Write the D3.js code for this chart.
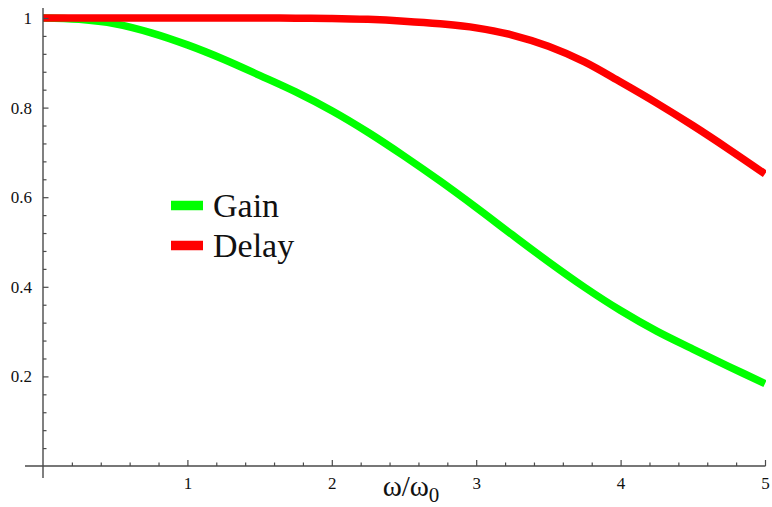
<!DOCTYPE html>
<html><head><meta charset="utf-8">
<script src="https://cdn.jsdelivr.net/npm/d3@7"></script>
<style>
html,body{margin:0;padding:0;background:#fff;}
svg{display:block;}
</style></head>
<body>
<svg id="chart" width="772" height="507"></svg>
<script>
// ----- data -----
const omega = [0,0.25,0.5,0.75,1,1.25,1.5,1.75,2,2.25,2.5,2.75,3,3.25,3.5,3.75,4,4.25,4.5,4.75,5];
const gain  = [1.000,0.997,0.987,0.967,0.940,0.908,0.872,0.835,0.793,0.745,0.692,0.636,0.577,0.516,0.456,0.399,0.347,0.301,0.261,0.222,0.184];
const delay = [1.000,1.000,1.000,1.000,1.000,1.000,1.000,0.9995,0.999,0.997,0.993,0.987,0.978,0.962,0.937,0.902,0.857,0.810,0.760,0.707,0.652];
const xMajorTicks = [1,2,3,4,5];
const yMajorTicks = [0.2,0.4,0.6,0.8,1];
const seriesNames = ["Gain","Delay"];
const seriesColors = ["#00ff00","#ff0000"];
const xLabel = "ω/ω";
const xLabelSub = "0";

const svg = d3.select("#chart");
const x = d3.scaleLinear().domain([0,5]).range([43,765]);
const y = d3.scaleLinear().domain([0,1]).range([466,18]);

const serif = "Liberation Serif, Times New Roman, serif";
const axisColor = "#4a4a4a";

const xMinor = d3.range(1,26).map(i=>+(i*0.2).toFixed(2)).filter(v=>!xMajorTicks.includes(v));
const yMinor = d3.range(1,26).map(i=>+(i*0.04).toFixed(2)).filter(v=>!yMajorTicks.some(t=>Math.abs(t-v)<1e-6));

// curves
const line = d3.line().x((d,i)=>x(omega[i])).y(d=>y(d)).curve(d3.curveCatmullRom.alpha(0.5));
svg.append("defs").append("clipPath").attr("id","clip")
  .append("rect").attr("x",x(0)).attr("y",0).attr("width",x(5)-x(0)+1).attr("height",y(0));
const g = svg.append("g").attr("clip-path","url(#clip)");
[gain, delay].forEach((s,k)=>{
  g.append("path").datum(s).attr("d",line).attr("fill","none")
   .attr("stroke",seriesColors[k]).attr("stroke-width",7.5)
   .attr("stroke-linejoin","round").attr("stroke-linecap","butt");
});

// axes lines
svg.append("line").attr("x1",x(0)).attr("x2",x(0)).attr("y1",8).attr("y2",478)
  .attr("stroke",axisColor).attr("stroke-width",1.4);
svg.append("line").attr("x1",25).attr("x2",x(5)+0.5).attr("y1",y(0)).attr("y2",y(0))
  .attr("stroke",axisColor).attr("stroke-width",1.4);

function styleAxis(sel){
  sel.attr("font-family",serif).attr("font-size",17);
  sel.select(".domain").remove();
  sel.selectAll(".tick line").attr("stroke",axisColor).attr("stroke-width",1.2);
  sel.selectAll(".tick text").attr("fill","#111").attr("font-family",serif).attr("font-size",17);
}
// x axis
svg.append("g").attr("transform",`translate(0,${y(0)})`)
  .call(d3.axisBottom(x).tickValues(xMinor).tickSize(-3.5).tickFormat("")).call(styleAxis);
svg.append("g").attr("transform",`translate(0,${y(0)})`)
  .call(d3.axisBottom(x).tickValues(xMajorTicks).tickSize(-6).tickPadding(11).tickFormat(d3.format("d"))).call(styleAxis);
// y axis
svg.append("g").attr("transform",`translate(${x(0)},0)`)
  .call(d3.axisLeft(y).tickValues(yMinor).tickSize(-3.5).tickFormat("")).call(styleAxis);
svg.append("g").attr("transform",`translate(${x(0)},0)`)
  .call(d3.axisLeft(y).tickValues(yMajorTicks).tickSize(-5.5).tickPadding(11).tickFormat(d=>d===1?"1":d3.format(".1f")(d))).call(styleAxis);

// x label
const lab = svg.append("text").attr("x",411).attr("y",496).attr("text-anchor","middle")
  .attr("font-family",serif).attr("font-size",29).attr("fill","#111");
lab.append("tspan").text(xLabel);
lab.append("tspan").attr("dy",6).attr("font-size",21).text(xLabelSub);

// legend
const legY = [205.5, 245.5];
seriesNames.forEach((n,k)=>{
  svg.append("line").attr("x1",171).attr("x2",203).attr("y1",legY[k]).attr("y2",legY[k])
    .attr("stroke",seriesColors[k]).attr("stroke-width",9.5);
  svg.append("text").attr("x",213).attr("y",legY[k]+11.5)
    .attr("font-family",serif).attr("font-size",34).attr("fill","#111").text(n);
});
</script>
</body></html>
